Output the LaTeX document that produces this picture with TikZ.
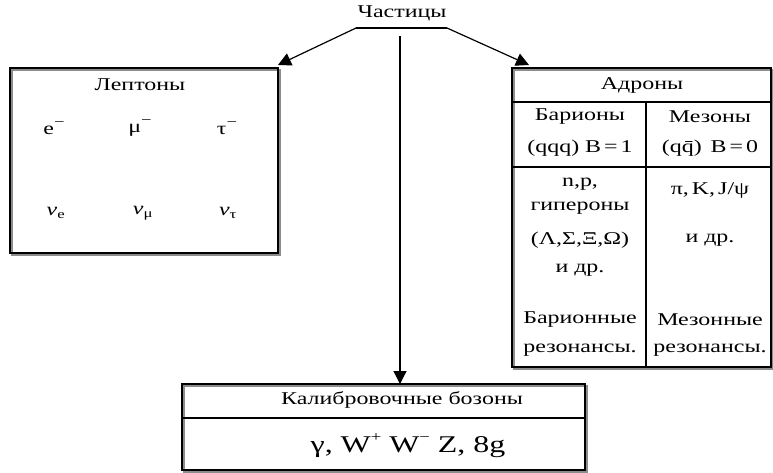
\documentclass[tikz,border=0pt]{standalone}
\usepackage{fontspec}
\setmainfont{Liberation Serif}[FakeStretch=1.33]
\usetikzlibrary{arrows.meta}
\newcommand{\supm}[1]{\raisebox{1.0ex}{\fontsize{14}{14}\selectfont #1}}
\begin{document}
\begin{tikzpicture}[x=1pt,y=-1pt,
  font=\fontsize{18}{21}\selectfont,
  lbl/.style={inner sep=0pt, anchor=center, align=center},
  frame/.style={draw=black, line width=1.4pt, inner sep=0pt},
  shade/.style={draw=black!45, line width=1.8pt},
  conn/.style={draw=black, line width=1.2pt},
  arr/.style={conn, -{Triangle[length=13pt,width=13pt]}},
  big/.style={font=\fontsize{24}{28}\selectfont}]
\useasboundingbox (0,0) rectangle (773,472);
% shadows
\draw[shade] (12,70) rectangle (280,255);
\draw[shade] (514,70) rectangle (773,369);
\draw[shade] (184,386) rectangle (587,472);
% title
\node[lbl] (title) at (402,13) {Частицы};
\coordinate (ul1) at (356,28);
\coordinate (ul2) at (447,28);
\draw[conn] (ul1) -- (ul2);
% boxes
\node[frame, minimum width=268pt, minimum height=185pt] (lep) at (144,160.5) {};
\node[frame, minimum width=259pt, minimum height=299pt] (had) at (641.5,217.5) {};
\node[frame, minimum width=403pt, minimum height=86pt] (bos) at (383.5,427) {};
% arrows
\coordinate (tipL) at (278,65);
\coordinate (tipR) at (529,65);
\coordinate (vtop) at (400,36);
\coordinate (vbot) at (400,384);
\draw[arr] (ul1) -- (tipL);
\draw[arr] (ul2) -- (tipR);
\draw[arr] (vtop) -- (vbot);
% leptons
\node[lbl] (lt) at (140,85) {Лептоны};
\node[lbl] (e) at (54,128) {e\supm{−}};
\node[lbl] (mu) at (140,128) {μ\supm{−}};
\node[lbl] (tau) at (227,128) {τ\supm{−}};
\node[lbl] (ne) at (56,213) {\textit{ν}\textsubscript{e}};
\node[lbl] (nm) at (143,213) {\textit{ν}\textsubscript{μ}};
\node[lbl] (nt) at (228,213) {\textit{ν}\textsubscript{τ}};
% hadrons grid
\draw[frame] (512,102) -- (771,102);
\draw[frame] (512,167) -- (771,167);
\draw[frame] (646,102) -- (646,367);
\node[lbl] (hd) at (642,85) {Адроны};
\node[lbl] (bar) at (580,117) {Барионы};
\node[lbl] (barq) at (580,148) {(qqq) B\,=\,1};
\node[lbl] (mes) at (710,117) {Мезоны};
\node[lbl] (mesq) at (710,148) {(q\={q}) \,B\,=\,0};
\node[lbl] (bl1) at (580,184) {n,p,};
\node[lbl] (bl2) at (580,208) {гипероны};
\node[lbl] (bl3) at (580,240) {(Λ,Σ,Ξ,Ω)};
\node[lbl] (bl4) at (580,270) {и др.};
\node[lbl] (ml1) at (710,190) {π,\,K,\,J/ψ};
\node[lbl] (ml2) at (710,240) {и др.};
\node[lbl] (br1) at (580,320) {Барионные};
\node[lbl] (br2) at (580,350) {резонансы.};
\node[lbl] (mr1) at (710,320) {Мезонные};
\node[lbl] (mr2) at (710,350) {резонансы.};
% bosons
\draw[frame] (182,418) -- (585,418);
\node[lbl] (bt) at (402,400) {Калибровочные бозоны};
\node[lbl, big] (bf) at (408,446) {γ, W\supm{+} W\supm{−} Z, 8g};
\end{tikzpicture}
\end{document}
